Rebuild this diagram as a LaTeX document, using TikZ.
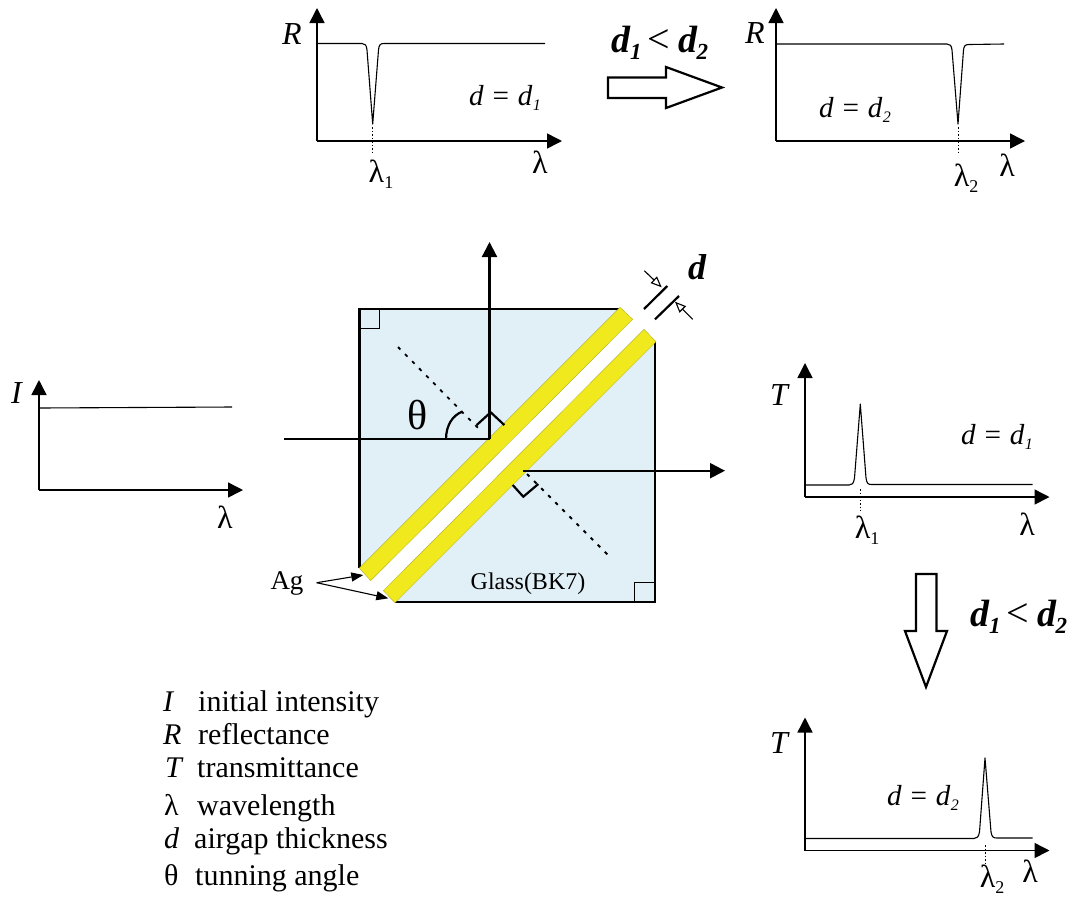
\documentclass[tikz,border=0pt]{standalone}
\usepackage{fontspec}
\setmainfont{Liberation Serif}
\usetikzlibrary{arrows.meta}
\definecolor{glass}{HTML}{E0F0F6}
\definecolor{ag}{HTML}{F0E91E}
\newcommand{\fs}[1]{\fontsize{#1}{#1}\selectfont}
\newcommand{\dd}[1]{\fs{29}\textit{d = d\kern0.02em\raisebox{-0.18em}{\fs{16}#1}}}
\newcommand{\ddb}{\fs{38}\bfseries\itshape d\kern-0.02em\raisebox{-0.2em}{\fs{23}1} {\normalfont\fs{40}\kern-0.1em<\kern-0.02em} d\kern-0.02em\raisebox{-0.2em}{\fs{23}2}}
\newcommand{\lam}[1]{\fs{32}λ\raisebox{-0.2em}{\fs{18}#1}}
\tikzset{
  x=1pt,y=-1pt,
  axis/.style={line width=1.5pt,-{Triangle[length=15pt,width=15pt]}},
  curve/.style={line width=1.1pt,line join=round},
  tick/.style={line width=0.9pt,dash pattern=on 1.5pt off 2pt},
  ray/.style={line width=2.2pt,-{Triangle[length=15pt,width=15pt]}},
  plain/.style={line width=2.2pt},
  normal/.style={line width=1.8pt,dash pattern=on 3.5pt off 6.5pt},
  corner/.style={line width=1pt},
  strip/.style={fill=ag,draw=ag!70!black,line width=0.3pt},
  block/.style={draw=black,fill=white,line width=2.2pt,line join=miter},
  lab/.style={inner sep=0pt,font=\fs{32}},
  legsym/.style={inner sep=0pt,anchor=base west,font=\fs{30}},
  pointer/.style={line width=1.1pt,-{Triangle[length=12pt,width=9pt]}},
  gaparrow/.style={line width=1.1pt,-{Triangle[open,fill=white,length=11pt,width=9pt]}},
}
\begin{document}
\begin{tikzpicture}
\useasboundingbox (0,0) rectangle (1076,898);
% top-left plot
\coordinate (Ra) at (317,141); \coordinate (Rb) at (317,8); \coordinate (Rc) at (562,141);
\draw[axis] (Ra) -- (Rb); \draw[axis] (Ra) -- (Rc);
\draw[curve] (317,43.5) -- (362,43.5) .. controls (365,43.5) and (366.5,45) .. (367,50) -- (372.7,124) -- (378.5,50) .. controls (379,45) and (380,43.5) .. (384,43.5) -- (545,43.5);
\draw[tick] (372.7,127) -- (372.7,155);
\node[lab] (RL) at (292,34) {\textit{R}};
\node[lab] (Rd) at (505,98) {\dd{1}};
\node[lab] (Rl) at (540,162) {λ};
\node[lab] (Rl1) at (381,174) {\lam{1}};
% top-right plot
\coordinate (Sa) at (776,141); \coordinate (Sb) at (776,8); \coordinate (Sc) at (1025,141);
\draw[axis] (Sa) -- (Sb); \draw[axis] (Sa) -- (Sc);
\draw[curve] (776,44) -- (947,44) .. controls (950,44) and (951.5,45.5) .. (952,50) -- (958,124) -- (963.5,50) .. controls (964,46) and (965,44.5) .. (969,44.5) -- (1004,44);
\draw[tick] (958,127) -- (958,155);
\node[lab] (SL) at (755,33) {\textit{R}};
\node[lab] (Sd) at (855,110) {\dd{2}};
\node[lab] (Sl) at (1007,165) {λ};
\node[lab] (Sl2) at (966,178) {\lam{2}};
% block arrow right
\node[inner sep=0pt] (ineqA) at (660,43) {\ddb};
\draw[block] (608,77.5) -- (666,77.5) -- (666,67) -- (722,87.5) -- (666,108) -- (666,98) -- (608,98) -- cycle;
% glass
\fill[glass] (359.5,309) -- (620,309) -- (655,342) -- (655,602) -- (395,602) -- (359.5,568) -- cycle;
\draw[plain] (620,309) -- (359.5,309) -- (359.5,568);
\draw[plain] (655,341) -- (655,602) -- (395,602);
\draw[corner] (359.5,328) -- (379,328) -- (379,309);
\draw[corner] (634.5,602) -- (634.5,582) -- (655,582);
\fill[white] (632.7,319.3) -- (644,329.3) -- (383.3,590.7) -- (370.7,580.7) -- cycle;
\draw[strip] (620,307.3) -- (632.7,319.3) -- (370.7,580.7) -- (359.3,568) -- cycle;
\draw[strip] (644,329.3) -- (656,341.7) -- (395,602.7) -- (383.3,590.7) -- cycle;
% normals
\draw[normal] (398,347) -- (481,431);
\draw[normal] (527,474) -- (611,558);
% rays
\coordinate (inA) at (284,439.3); \coordinate (hit) at (489.5,439.3);
\coordinate (top) at (489.5,242); \coordinate (outA) at (523,470.7); \coordinate (outB) at (725,470.7);
\draw[plain] (inA) -- (hit);
\draw[ray] (hit) -- (top);
\draw[ray] (outA) -- (outB);
\draw[plain] (476.7,425) -- (490.7,412.3) -- (504.3,425);
\draw[plain] (512.7,485) -- (523.3,496.7) -- (538.3,484);
\draw[plain] (446,439.3) .. controls (446,425) and (453,415) .. (462.3,411.7);
\node[inner sep=0pt,font=\fs{42}] (theta) at (418,415) {θ};
% gap marker
\draw[plain] (644,309) -- (667.3,286);
\draw[plain] (655,319.3) -- (679,296);
\draw[gaparrow] (644.3,270.7) -- (661.7,287.3);
\draw[gaparrow] (692.7,319.3) -- (675,301.7);
\node[inner sep=0pt,font=\fs{36}\bfseries\itshape] (dgap) at (697,267) {d};
% labels
\node[inner sep=0pt,font=\fs{27}] (Ag) at (287,583) {Ag};
\coordinate (AgO) at (316.7,582.7);
\draw[pointer] (AgO) -- (363.3,575);
\draw[pointer] (AgO) -- (388.3,598.3);
\node[inner sep=0pt,font=\fs{24}] (gl) at (528,584) {Glass(BK7)};
% I plot
\coordinate (Ia) at (39,490); \coordinate (Ib) at (39,380); \coordinate (Ic) at (243,490);
\draw[axis] (Ia) -- (Ib); \draw[axis] (Ia) -- (Ic);
\draw[curve] (39,408) -- (232,407);
\node[lab] (IL) at (17,393) {\textit{I}};
\node[lab] (Il) at (225,517) {λ};
% T1 plot
\coordinate (Ta) at (805,497); \coordinate (Tb) at (805,363); \coordinate (Tc) at (1049.5,497);
\draw[axis] (Ta) -- (Tb); \draw[axis] (Ta) -- (Tc);
\draw[curve] (805,485) -- (849,485) .. controls (852,485) and (853.5,484) .. (854.5,478) -- (860.3,404) -- (866,478) .. controls (867,484) and (868,484.5) .. (872,484.5) -- (1032.7,484.5);
\draw[tick] (860.3,489) -- (860.3,511);
\node[lab] (TL) at (780,395) {\textit{T}};
\node[lab] (Td) at (997,437) {\dd{1}};
\node[lab] (Tl) at (1027,524) {λ};
\node[lab] (Tl1) at (867,530) {\lam{1}};
% block arrow down
\draw[block] (916,574) -- (936.5,574) -- (936.5,631) -- (947,631) -- (926,687) -- (905,631) -- (916,631) -- cycle;
\node[inner sep=0pt] (ineqB) at (1019,617) {\ddb};
% T2 plot
\coordinate (Ua) at (805,850.5); \coordinate (Ub) at (805,717.5); \coordinate (Uc) at (1049.5,850.5);
\draw[axis] (Ua) -- (Ub); \draw[axis] (Ua) -- (Uc);
\draw[curve] (805,838.5) -- (974,838.5) .. controls (977,838.5) and (978.5,837) .. (979.5,832) -- (985,758) -- (991,832) .. controls (992,837) and (993,838) .. (997,838) -- (1032.7,838);
\draw[tick] (985.5,845) -- (985.5,866);
\node[lab] (UL) at (780,743) {\textit{T}};
\node[lab] (Ud) at (923,798) {\dd{2}};
\node[lab] (Ul) at (1030,871) {λ};
\node[lab] (Ul2) at (992,879) {\lam{2}};
% legend
\node[legsym] (k1) at (163,711) {\textit{I}};
\node[legsym] (v1) at (198,711) {initial intensity};
\node[legsym] (k2) at (163,744) {\textit{R}};
\node[legsym] (v2) at (198,744) {reflectance};
\node[legsym] (k3) at (165,777) {\textit{T}};
\node[legsym] (v3) at (197,777) {transmittance};
\node[legsym] (k4) at (164,815) {λ};
\node[legsym] (v4) at (197,815) {wavelength};
\node[legsym] (k5) at (164,848) {\textit{d}};
\node[legsym] (v5) at (194,848) {airgap thickness};
\node[legsym] (k6) at (164,885) {θ};
\node[legsym] (v6) at (195,885) {tunning angle};
\end{tikzpicture}
\end{document}
